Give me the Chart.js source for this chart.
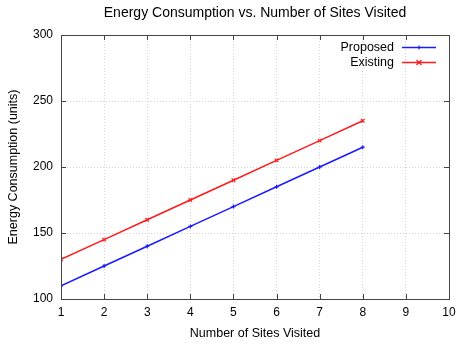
<!DOCTYPE html>
<html>
<head>
<meta charset="utf-8">
<script src="https://cdn.jsdelivr.net/npm/chart.js@4/dist/chart.umd.min.js"></script>
<style>
  html, body { margin: 0; padding: 0; background: #fff; }
  #wrap { width: 456px; height: 345px; position: relative; }
</style>
</head>
<body>
<div id="wrap"><canvas id="c"></canvas></div>
<script>
const sitesVisited = [1, 2, 3, 4, 5, 6, 7, 8];
const proposedEnergy = [110, 125, 140, 155, 170, 185, 200, 215];
const existingEnergy = [130, 145, 160, 175, 190, 205, 220, 235];
const xTicks = [1, 2, 3, 4, 5, 6, 7, 8, 9, 10];
const yTicks = [100, 150, 200, 250, 300];

const FONT = '"Liberation Sans", Arial, sans-serif';
const FRAME = '#444';

function toPoints(xs, ys) { return xs.map((x, i) => ({ x: x, y: ys[i] })); }

// Frame, inward mirrored ticks, titles and the key, drawn gnuplot-style
const decor = {
  id: 'decor',
  afterDatasetsDraw(chart) {
    const { ctx, chartArea: a, scales } = chart;
    ctx.save();
    ctx.strokeStyle = FRAME;
    ctx.lineWidth = 1;
    ctx.strokeRect(Math.round(a.left) + 0.5, Math.round(a.top) + 0.5,
                   Math.round(a.right - a.left), Math.round(a.bottom - a.top));
    const t = 5;
    ctx.beginPath();
    xTicks.forEach(v => {
      const px = Math.round(scales.x.getPixelForValue(v)) + 0.5;
      ctx.moveTo(px, a.bottom); ctx.lineTo(px, a.bottom - t);
      ctx.moveTo(px, a.top); ctx.lineTo(px, a.top + t);
    });
    yTicks.forEach(v => {
      const py = Math.round(scales.y.getPixelForValue(v)) + 0.5;
      ctx.moveTo(a.left, py); ctx.lineTo(a.left + t, py);
      ctx.moveTo(a.right, py); ctx.lineTo(a.right - t, py);
    });
    ctx.stroke();

    // title and axis titles
    ctx.fillStyle = '#000';
    ctx.textAlign = 'center';
    ctx.textBaseline = 'middle';
    ctx.font = '14px ' + FONT;
    ctx.fillText('Energy Consumption vs. Number of Sites Visited', 255, 13);
    ctx.font = '12.5px ' + FONT;
    ctx.fillText('Number of Sites Visited', (a.left + a.right) / 2, 334);
    ctx.save();
    ctx.translate(14, (a.top + a.bottom) / 2);
    ctx.rotate(-Math.PI / 2);
    ctx.fillText('Energy Consumption (units)', 0, 0);
    ctx.restore();

    // key
    ctx.textAlign = 'right';
    ctx.font = '12.5px ' + FONT;
    chart.data.datasets.forEach((ds, i) => {
      const y = 47.5 + i * 15;
      ctx.fillStyle = '#000';
      ctx.fillText(ds.label, 394, y);
      ctx.strokeStyle = ds.borderColor;
      ctx.lineWidth = 1.5;
      ctx.beginPath();
      ctx.moveTo(402, y); ctx.lineTo(436, y);
      ctx.stroke();
      ctx.lineWidth = 1.2;
      ctx.beginPath();
      const cx = 419, r = ds.pointRadius;
      if (ds.pointStyle === 'crossRot') {
        ctx.moveTo(cx - r, y - r); ctx.lineTo(cx + r, y + r);
        ctx.moveTo(cx - r, y + r); ctx.lineTo(cx + r, y - r);
      } else {
        ctx.moveTo(cx - r, y); ctx.lineTo(cx + r, y);
        ctx.moveTo(cx, y - r); ctx.lineTo(cx, y + r);
      }
      ctx.stroke();
    });
    ctx.restore();
  }
};

new Chart(document.getElementById('c'), {
  type: 'line',
  data: {
    datasets: [
      {
        label: 'Proposed',
        data: toPoints(sitesVisited, proposedEnergy),
        borderColor: '#1a1aff',
        backgroundColor: '#1a1aff',
        borderWidth: 1.5,
        pointStyle: 'cross',
        pointRadius: 2,
        pointBorderWidth: 1.2,
        tension: 0
      },
      {
        label: 'Existing',
        data: toPoints(sitesVisited, existingEnergy),
        borderColor: '#ff1a1a',
        backgroundColor: '#ff1a1a',
        borderWidth: 1.5,
        pointStyle: 'crossRot',
        pointRadius: 2.5,
        pointBorderWidth: 1.2,
        tension: 0
      }
    ]
  },
  options: {
    responsive: true,
    maintainAspectRatio: false,
    animation: false,
    devicePixelRatio: 1,
    layout: { padding: { left: 0, right: 7, top: 35, bottom: 0 } },
    plugins: { legend: { display: false }, title: { display: false }, tooltip: { enabled: false } },
    scales: {
      x: {
        type: 'linear',
        min: 1, max: 10,
        afterBuildTicks: s => { s.ticks = xTicks.map(v => ({ value: v })); },
        afterFit: s => { s.height = 46; s.paddingLeft = 0; s.paddingRight = 0; },
        grid: { color: '#d4d4d4', lineWidth: 1, drawTicks: false },
        border: { display: false, dash: [1, 2] },
        ticks: { color: '#000', font: { family: FONT, size: 12 }, padding: 6, maxRotation: 0 }
      },
      y: {
        type: 'linear',
        min: 100, max: 300,
        afterBuildTicks: s => { s.ticks = yTicks.map(v => ({ value: v })); },
        afterFit: s => { s.width = 61; s.paddingTop = 0; s.paddingBottom = 0; },
        grid: { color: '#d4d4d4', lineWidth: 1, drawTicks: false },
        border: { display: false, dash: [1, 2] },
        ticks: { color: '#000', font: { family: FONT, size: 12 }, padding: 8 }
      }
    }
  },
  plugins: [decor]
});
</script>
</body>
</html>
